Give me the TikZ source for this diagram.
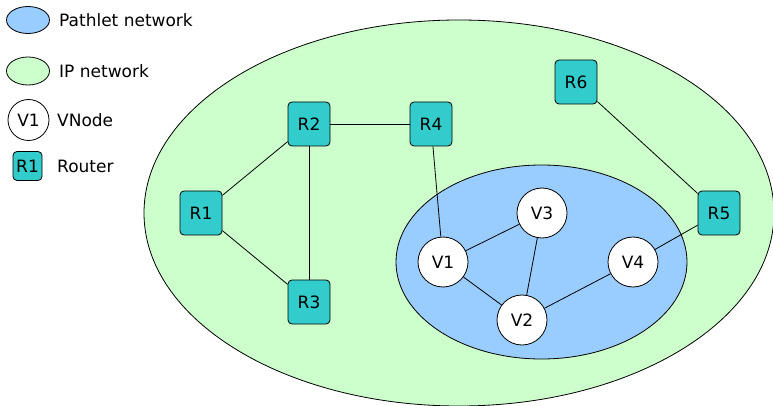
\documentclass[tikz,border=0pt]{standalone}
\usepackage{fontspec}
\setmainfont{DejaVu Sans}
\begin{document}
\begin{tikzpicture}[x=1pt,y=-1pt,
  every node/.style={font=\fontsize{17}{20}\selectfont},
  link/.style={draw=black,line width=0.8pt},
  router/.style={draw=black,line width=0.8pt,fill=routerfill,rounded corners=4pt,
    minimum width=42pt,minimum height=44pt,inner sep=0pt},
  vnode/.style={draw=black,line width=0.8pt,fill=white,circle,minimum size=50pt,inner sep=0pt},
  legendtext/.style={anchor=west,inner sep=0pt}]
\definecolor{routerfill}{HTML}{33CCCC}
\definecolor{pathletfill}{HTML}{99CCFF}
\definecolor{ipfill}{HTML}{CCFFCC}
\useasboundingbox (0,0) rectangle (773,406);
\clip (0,0) rectangle (773,406);

% networks
\draw[fill=ipfill,line width=0.8pt] (459,213) ellipse [x radius=315,y radius=193];
\draw[fill=pathletfill,line width=0.8pt] (541.5,262) ellipse [x radius=145.5,y radius=97];

% legend
\draw[fill=pathletfill,line width=0.8pt] (28,20) ellipse [x radius=21.5,y radius=13.5];
\node[legendtext] (lpath) at (59,20) {Pathlet network};
\draw[fill=ipfill,line width=0.8pt] (28,71) ellipse [x radius=21.5,y radius=14];
\node[legendtext] (lip) at (59,71) {IP network};
\node[vnode,minimum size=41pt] (lv) at (28.5,120) {V1};
\node[legendtext] (lvt) at (57,120) {VNode};
\node[router,minimum width=29pt,minimum height=29pt] (lr) at (27.5,166) {R1};
\node[legendtext] (lrt) at (57,166) {Router};

% routers
\node[router] (R1) at (201,213) {R1};
\node[router] (R2) at (309,124) {R2};
\node[router] (R3) at (309,302) {R3};
\node[router] (R4) at (431,124) {R4};
\node[router] (R5) at (719,213) {R5};
\node[router] (R6) at (576,82) {R6};

% virtual nodes
\node[vnode] (V1) at (443,262) {V1};
\node[vnode] (V2) at (522,320) {V2};
\node[vnode] (V3) at (542,213) {V3};
\node[vnode] (V4) at (633,262) {V4};

% links
\draw[link] (R1) -- (R2);
\draw[link] (R1) -- (R3);
\draw[link] (R2) -- (R3);
\draw[link] (R2) -- (R4);
\draw[link] (R4) -- (V1);
\draw[link] (R6) -- (R5);
\draw[link] (R5) -- (V4);
\draw[link] (V1) -- (V3);
\draw[link] (V1) -- (V2);
\draw[link] (V3) -- (V2);
\draw[link] (V2) -- (V4);
\end{tikzpicture}
\end{document}
